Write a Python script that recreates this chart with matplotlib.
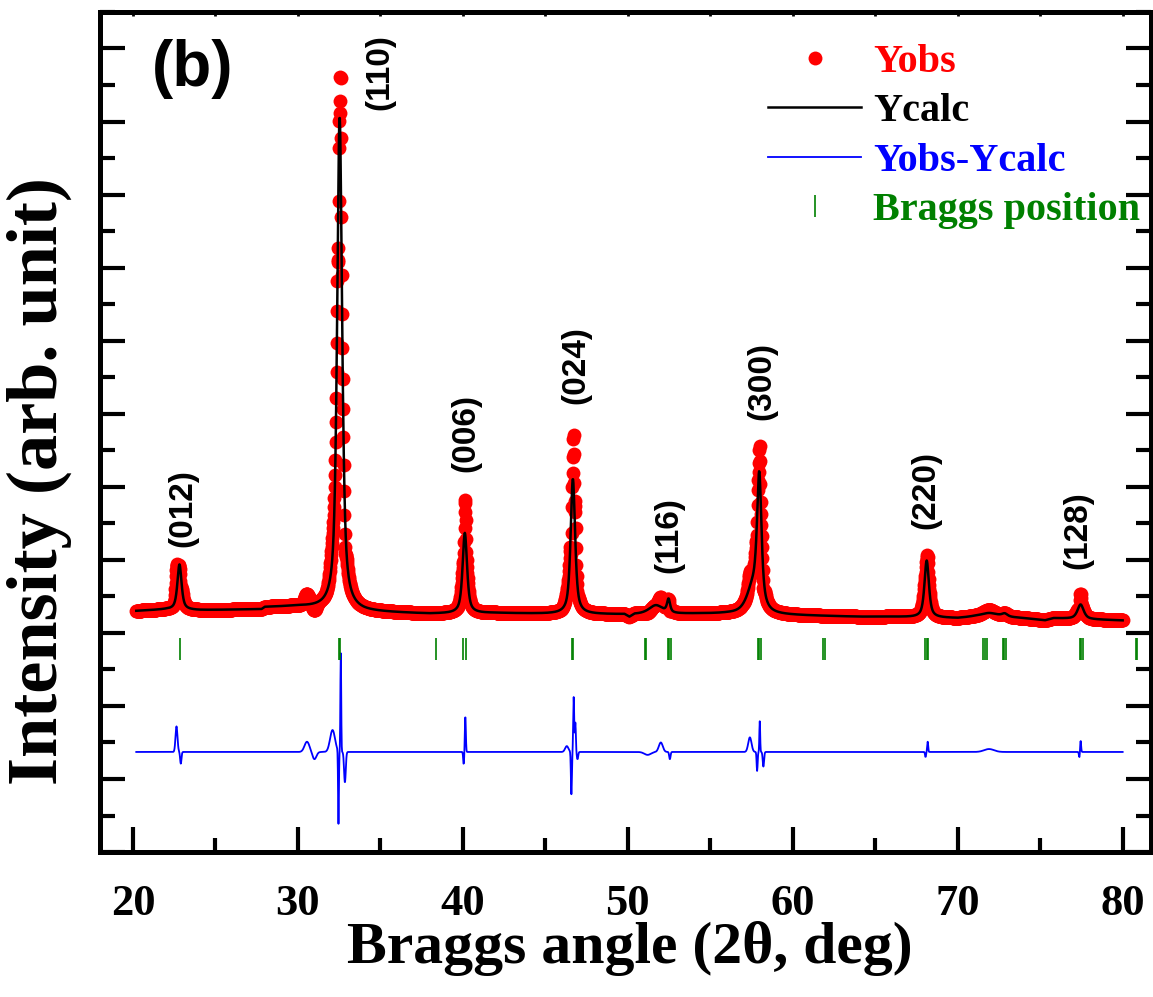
import numpy as np
import matplotlib.pyplot as plt
from matplotlib.ticker import MultipleLocator

plt.rcParams['font.family'] = ['Liberation Serif', 'DejaVu Serif']
plt.rcParams['font.weight'] = 'bold'

# background of the refined pattern, read at a few angles
BG_ANGLE = [20.2, 22.0, 24.0, 27.8, 28.0, 30.0, 34.0, 38.0, 42.0, 45.0, 49.8, 50.1, 50.4,
            54.0, 56.0, 60.0, 64.0, 66.0, 70.0, 71.0, 72.5, 74.0, 75.3, 75.8, 80.0]
BG_LEVEL = [3.30, 3.32, 3.31, 3.32, 3.35, 3.36, 3.29, 3.26, 3.27, 3.26, 3.25, 3.21, 3.25,
            3.26, 3.26, 3.24, 3.22, 3.22, 3.20, 3.22, 3.22, 3.20, 3.17, 3.20, 3.17]

# calculated reflections: position (deg), height, fwhm (deg)
PEAK_POS = [22.82, 32.53, 40.12, 46.67, 51.7, 52.47, 57.6, 57.97, 68.12, 71.9, 72.85, 77.45]
PEAK_HT = [0.62, 6.75, 1.10, 1.85, 0.12, 0.18, 0.35, 1.75, 0.78, 0.05, 0.04, 0.20]
PEAK_FWHM = [0.30, 0.36, 0.32, 0.32, 1.0, 0.22, 0.9, 0.32, 0.32, 1.2, 0.4, 0.45]

# misfit features of Yobs-Ycalc: position (deg), signed size, width (deg)
DIFF_POS = [22.64, 22.90, 30.55, 31.00, 32.10, 32.46, 32.60, 32.85,
            40.05, 40.15, 46.30, 46.58, 46.72, 46.82, 46.95,
            51.20, 52.00, 52.55, 57.40, 57.84, 58.00, 58.22,
            68.05, 68.18, 71.90, 77.38, 77.45]
DIFF_AMP = [0.35, -0.16, 0.14, -0.10, 0.30, -1.00, 1.35, -0.42,
            -0.17, 0.50, 0.08, -0.58, 0.75, 0.40, -0.10,
            -0.04, 0.13, -0.10, 0.20, -0.26, 0.42, -0.20,
            -0.07, 0.14, 0.04, -0.08, 0.16]
DIFF_WID = [0.06, 0.04, 0.15, 0.12, 0.15, 0.025, 0.025, 0.05,
            0.03, 0.03, 0.10, 0.03, 0.03, 0.03, 0.04,
            0.20, 0.12, 0.04, 0.10, 0.03, 0.025, 0.04,
            0.03, 0.03, 0.30, 0.03, 0.03]
DIFF_OFFSET = 1.37

BRAGG_POS = [22.87, 32.50, 32.58, 38.37, 40.03, 40.18, 46.62, 46.70, 51.02, 51.12,
             52.44, 52.52, 52.60, 57.90, 57.98, 58.06, 61.85, 61.95, 68.02, 68.12, 68.22,
             71.55, 71.65, 71.75, 72.72, 72.82, 72.92, 77.40, 77.50, 77.60, 80.80, 80.90]
BRAGG_LEVEL = 2.78

HKL = ['(012)', '(110)', '(006)', '(024)', '(116)', '(300)', '(220)', '(128)']
HKL_X = [23.0, 34.97, 40.2, 46.85, 52.5, 58.1, 68.1, 77.27]
HKL_Y = [4.71, 10.68, 5.74, 6.67, 4.34, 6.45, 4.95, 4.40]

tt = np.arange(20.2, 80.01, 0.02)


def pvoigt(x, c, w, eta=0.7):
    d = (x - c) / w
    return eta / (1 + 4 * d ** 2) + (1 - eta) * np.exp(-4 * np.log(2) * d ** 2)


ycalc = np.interp(tt, BG_ANGLE, BG_LEVEL)
for c, h, w in zip(PEAK_POS, PEAK_HT, PEAK_FWHM):
    ycalc = ycalc + h * pvoigt(tt, c, w)

ydiff = np.zeros_like(tt)
for c, a, s in zip(DIFF_POS, DIFF_AMP, DIFF_WID):
    ydiff = ydiff + a * np.exp(-0.5 * ((tt - c) / s) ** 2)
yobs = ycalc + ydiff

fig = plt.figure(figsize=(11.53, 9.97), dpi=100)
ax = fig.add_axes([0.0867, 0.1454, 0.9113, 0.8426])

ax.plot(tt, yobs, 'o', color='red', ms=10, mew=0, label='Yobs')
ax.plot(tt, ycalc, '-', color='black', lw=1.8, label='Ycalc')
ax.plot(tt, ydiff + DIFF_OFFSET, '-', color='blue', lw=1.3, label='Yobs-Ycalc')
ax.plot(BRAGG_POS, [BRAGG_LEVEL] * len(BRAGG_POS), '|', color='green', ms=16, mew=1.2,
        label='Braggs position')

for lab, x, y in zip(HKL, HKL_X, HKL_Y):
    ax.text(x, y, lab, rotation=90, ha='center', va='center', fontsize=24,
            family='Liberation Sans', weight='bold')

ax.text(0.0885, 0.932, '(b)', transform=ax.transAxes, ha='center', va='center',
        fontsize=46, family='Liberation Sans', weight='bold')

ax.set_xlim(18.0, 81.7)
ax.set_ylim(0, 11.5)
ax.xaxis.set_major_locator(MultipleLocator(10))
ax.xaxis.set_minor_locator(MultipleLocator(5))
ax.yaxis.set_major_locator(MultipleLocator(1))
ax.yaxis.set_minor_locator(MultipleLocator(0.5))
ax.set_yticklabels([])

for sp in ax.spines.values():
    sp.set_linewidth(3.6)
ax.tick_params(which='both', direction='in', width=3, left=True, right=True,
               top=False, labelsize=32, pad=23)
ax.tick_params(which='major', length=18)
ax.tick_params(which='minor', length=10)
ax.tick_params(axis='y', which='minor', length=11)

top = ax.secondary_xaxis('top')
top.xaxis.set_major_locator(MultipleLocator(5))
top.tick_params(direction='in', length=3, width=2, labeltop=False)
top.spines['top'].set_linewidth(3.6)

ax.set_xlabel('Braggs angle (2θ, deg)', fontsize=43, fontweight='bold')
ax.xaxis.set_label_coords(0.504, -0.082)
ax.set_ylabel('Intensity (arb. unit)', fontsize=52, fontweight='bold')
ax.yaxis.set_label_coords(-0.0266, 0.4417)

leg = ax.legend(loc='upper left', bbox_to_anchor=(0.636, 0.962), frameon=False,
                fontsize=29, handlelength=2.3, handletextpad=0.3, labelspacing=0.3,
                borderpad=0, borderaxespad=0)
for t, c in zip(leg.get_texts(), ['red', 'black', 'blue', 'green']):
    t.set_color(c)

fig.savefig('out.png', dpi=100)
